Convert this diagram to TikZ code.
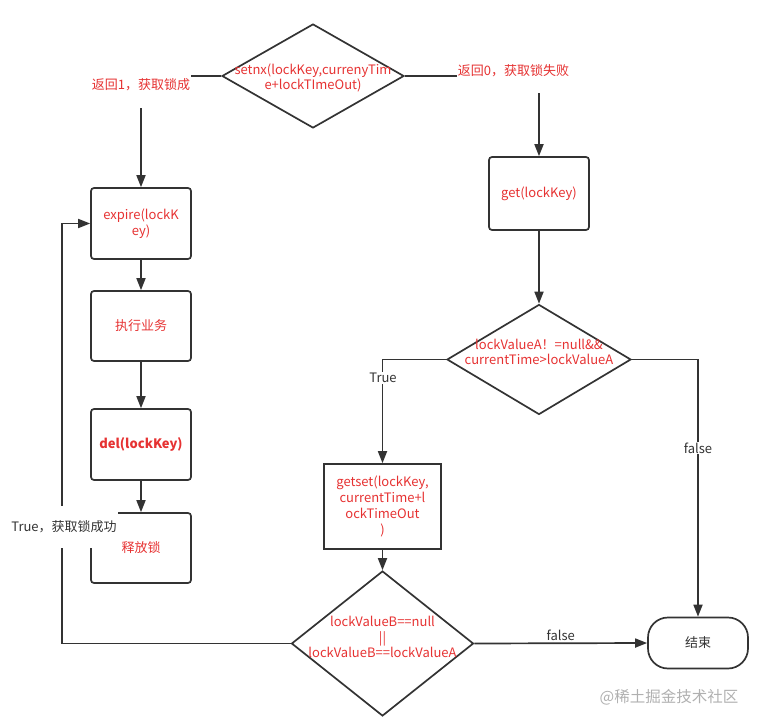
\documentclass[tikz,border=0pt]{standalone}
\usepackage{fontspec}
\setmainfont{Noto Sans CJK SC}
\usetikzlibrary{shapes.geometric,arrows.meta}
\definecolor{txtred}{RGB}{230,50,50}
\definecolor{ln}{RGB}{51,51,51}
\definecolor{wmgray}{RGB}{176,176,176}
\begin{document}
\begin{tikzpicture}[x=1pt,y=-1pt,
  every node/.style={font=\fontsize{13}{15.8}\selectfont},
  box/.style={draw=ln,line width=1.7pt,rounded corners=3pt,minimum width=100pt,minimum height=71pt,text=txtred,align=center,inner sep=2pt},
  dia/.style={draw=ln,line width=1.7pt,diamond,inner sep=0pt},
  dtext/.style={text=txtred,align=center,inner sep=0pt},
  conn/.style={draw=ln,line width=1.7pt,-{Triangle[length=12pt,width=9pt]}},
  lbl/.style={fill=white,inner sep=1pt,align=center}]
\useasboundingbox (0,0) rectangle (761,728);
% nodes
\node[dia,minimum width=182pt,minimum height=104pt] (d1) at (313,76) {};
\node[dtext] (d1t) at (313,78) {setnx(lockKey,currenyTim\\e+lockTImeOut)};
\node[box] (expire) at (141,223.5) {expire(lockK\\ey)};
\node[box,minimum height=70pt] (exec) at (141,326) {执行业务};
\node[box] (del) at (141,444.5) {\bfseries del(lockKey)};
\node[box,minimum height=70pt] (rel) at (141,548) {释放锁};
\node[box,minimum height=73pt] (get) at (539,193.5) {get(lockKey)};
\node[dia,minimum width=184pt,minimum height=110pt] (d2) at (539,359.5) {};
\node[dtext] (d2t) at (539,352) {lockValueA！=null\&\&\\currentTime>lockValueA};
\node[box,rounded corners=0pt,minimum width=117pt,minimum height=85pt] (gs) at (382.5,506.5) {getset(lockKey,\\currentTime+l\\ockTimeOut\\)};
\node[dia,minimum width=182pt,minimum height=145pt] (d3) at (382.5,643.5) {};
\node[dtext] (d3t) at (382.5,637) {lockValueB==null\\||\\lockValueB==lockValueA};
\node[draw=ln,line width=1.7pt,rounded corners=20pt,minimum width=100pt,minimum height=51pt,text=ln] (end) at (698,643) {结束};
\node[text=wmgray,font=\fontsize{15.5}{18}\selectfont] (wm) at (669,697) {@稀土掘金技术社区};
% connectors
\draw[conn] (d1.west) -| (expire.north);
\node[lbl,text=txtred,minimum width=100pt,minimum height=46pt] (l1) at (141,85) {返回1，获取锁成};
\draw[conn] (d1.east) -| (get.north);
\node[lbl,text=txtred,minimum height=44pt] (l0) at (513.5,71) {返回0，获取锁失败};
\draw[conn] (expire.south) -- (exec.north);
\draw[conn] (exec.south) -- (del.north);
\draw[conn] (del.south) -- (rel.north);
\draw[conn] (get.south) -- (d2.north);
\draw[conn] (d2.west) -| (gs.north);
\node[lbl,text=ln] (ltrue) at (383,378) {True};
\draw[conn] (d2.east) -| (end.north);
\node[lbl,text=ln] (lfalse1) at (698,448) {false};
\draw[conn] (gs.south) -- (d3.north);
\draw[conn] (d3.east) -- (end.west) node[midway,above=-2pt,text=ln] (lfalse2) {false};
\coordinate (lp) at (62,643.5);
\draw[conn] (d3.west) -- (lp) |- (expire.west);
\node[lbl,text=ln,minimum height=42pt] (lok) at (64,527) {True，获取锁成功};
\end{tikzpicture}
\end{document}
